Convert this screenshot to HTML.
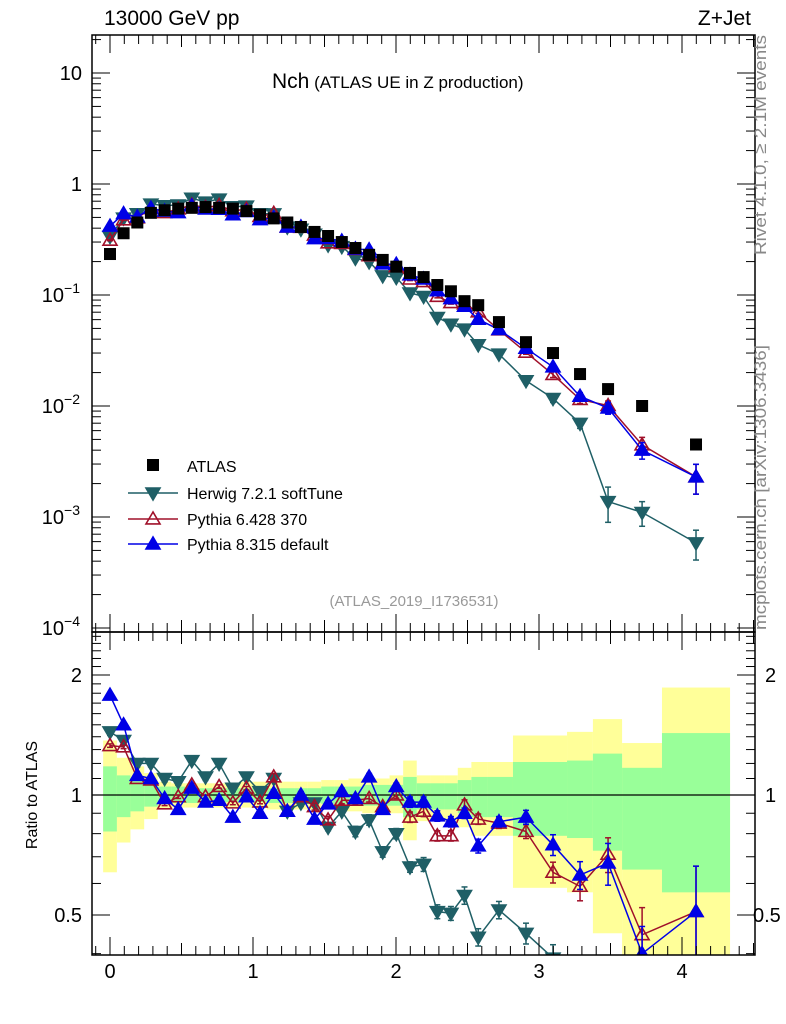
<!DOCTYPE html>
<html><head><meta charset="utf-8"><style>
html,body{margin:0;background:#fff;overflow:hidden;width:786px;height:1024px;}
svg{display:block;font-family:"Liberation Sans",sans-serif;}
</style></head><body>
<svg id="c" width="786" height="1024" xmlns="http://www.w3.org/2000/svg"></svg>
<script>
const xs=[0,0.095,0.191,0.286,0.382,0.477,0.572,0.668,0.763,0.859,0.954,1.049,1.145,1.24,1.335,1.43,1.525,1.621,1.716,1.812,1.907,2.002,2.098,2.193,2.289,2.384,2.479,2.575,2.72,2.909,3.098,3.287,3.483,3.721,4.098];
const edges=[-0.048,0.048,0.143,0.239,0.334,0.429,0.525,0.62,0.715,0.811,0.906,1.001,1.097,1.191,1.287,1.382,1.477,1.573,1.668,1.764,1.859,1.955,2.05,2.145,2.241,2.336,2.432,2.527,2.643,2.818,3.007,3.196,3.377,3.581,3.86,4.336];
const atlas=[0.234,0.36,0.45,0.55,0.58,0.60,0.61,0.62,0.61,0.60,0.57,0.53,0.49,0.45,0.41,0.37,0.34,0.30,0.265,0.23,0.207,0.18,0.158,0.145,0.123,0.108,0.088,0.081,0.057,0.0376,0.030,0.0194,0.0142,0.0100,0.0045];
const herwigRatio=[1.44,1.37,1.20,1.20,1.10,1.08,1.22,1.11,1.20,1.04,1.11,1.02,1.10,0.91,0.955,0.955,0.83,0.91,0.81,0.866,0.72,0.80,0.66,0.67,0.51,0.505,0.56,0.44,0.515,0.45,0.39,0.36,0.097,0.11,0.13];
const py6Ratio=[1.33,1.32,1.10,1.09,0.95,0.99,1.06,0.99,1.05,0.955,1.04,0.96,1.11,0.91,0.99,0.935,0.866,0.97,0.97,0.98,0.935,1.0,0.88,0.91,0.79,0.79,0.944,0.87,0.85,0.81,0.64,0.59,0.71,0.446,0.51];
const py8Ratio=[1.78,1.50,1.12,1.10,0.98,0.92,1.04,0.96,0.97,0.88,0.99,0.90,1.01,0.91,1.0,0.87,0.95,1.02,0.98,1.11,0.92,1.05,0.96,0.96,0.886,0.857,0.90,0.745,0.857,0.88,0.75,0.63,0.675,0.40,0.51];
const herwigErr=[0.02,0.02,0.02,0.02,0.02,0.02,0.02,0.02,0.02,0.02,0.02,0.02,0.02,0.02,0.02,0.02,0.02,0.02,0.03,0.03,0.03,0.03,0.03,0.04,0.04,0.04,0.05,0.05,0.05,0.06,0.08,0.1,0.35,0.25,0.3];
const py6Err=[0.01,0.01,0.01,0.01,0.01,0.01,0.01,0.01,0.01,0.01,0.01,0.01,0.02,0.02,0.02,0.02,0.02,0.02,0.02,0.02,0.02,0.02,0.03,0.03,0.03,0.03,0.03,0.03,0.03,0.04,0.06,0.08,0.1,0.17,0.3];
const py8Err=[0.01,0.01,0.01,0.01,0.01,0.01,0.01,0.01,0.01,0.01,0.01,0.01,0.02,0.02,0.02,0.02,0.02,0.02,0.02,0.02,0.02,0.02,0.03,0.03,0.03,0.03,0.03,0.04,0.03,0.04,0.06,0.08,0.12,0.17,0.3];
const yelHi=[1.37,1.24,1.18,1.135,1.08,1.07,1.07,1.07,1.07,1.07,1.08,1.08,1.08,1.08,1.08,1.08,1.09,1.09,1.10,1.10,1.10,1.12,1.22,1.12,1.12,1.12,1.17,1.21,1.21,1.41,1.41,1.44,1.55,1.35,1.86];
const yelLo=[0.64,0.76,0.82,0.87,0.92,0.93,0.93,0.93,0.93,0.93,0.93,0.93,0.92,0.92,0.92,0.92,0.92,0.91,0.91,0.90,0.90,0.90,0.77,0.86,0.86,0.86,0.83,0.79,0.79,0.585,0.585,0.57,0.45,0.3,0.3];
const grnHi=[1.18,1.12,1.09,1.07,1.05,1.05,1.04,1.04,1.04,1.04,1.04,1.04,1.04,1.04,1.04,1.04,1.05,1.05,1.05,1.06,1.06,1.06,1.11,1.07,1.07,1.07,1.09,1.11,1.11,1.21,1.21,1.22,1.27,1.17,1.43];
const grnLo=[0.81,0.88,0.91,0.935,0.95,0.955,0.955,0.96,0.96,0.96,0.96,0.96,0.955,0.955,0.955,0.955,0.95,0.95,0.95,0.94,0.94,0.94,0.88,0.92,0.92,0.92,0.90,0.88,0.88,0.79,0.79,0.78,0.725,0.65,0.57];
const xTicks=[0,1,2,3,4];
const mainTicks=[1,0,-1,-2,-3,-4];
const ratioTicks=[0.5,1,2];

const NS="http://www.w3.org/2000/svg";
const svg=document.getElementById('c');
function el(tag,attrs,parent){const e=document.createElementNS(NS,tag);for(const k in attrs)e.setAttribute(k,attrs[k]);(parent||svg).appendChild(e);return e;}
const L=92,R=755,T=35,M=632,B=955;
const X=v=>110+v*143;
const Y=v=>184-Math.log10(v)*111;
const YR=v=>795-Math.log10(v)*398.7;
const defs=el('defs',{});
const cp1=el('clipPath',{id:'cm'},defs);el('rect',{x:L,y:T,width:R-L,height:M-T},cp1);
const cp2=el('clipPath',{id:'cr'},defs);el('rect',{x:L,y:M,width:R-L,height:B-M},cp2);

const gBand=el('g',{'clip-path':'url(#cr)'});


for(let i=0;i<xs.length;i++){
  const r=el('rect',{x:X(edges[i]),width:X(edges[i+1])-X(edges[i]),y:YR(yelHi[i]),height:YR(yelLo[i])-YR(yelHi[i]),fill:'#ffff99'},gBand);
  
  
}
for(let i=0;i<xs.length;i++){
  const r=el('rect',{x:X(edges[i]),width:X(edges[i+1])-X(edges[i]),y:YR(grnHi[i]),height:YR(grnLo[i])-YR(grnHi[i]),fill:'#99ff99'},gBand);
  
  
}
el('line',{x1:L,x2:R,y1:YR(1),y2:YR(1),stroke:'#000','stroke-width':1.2});

function tri(g,cx,cy,up,color,filled){
  const s=7;
  const pts=up?`${cx},${cy-s} ${cx-s},${cy+s*0.7} ${cx+s},${cy+s*0.7}`:`${cx},${cy+s} ${cx-s},${cy-s*0.7} ${cx+s},${cy-s*0.7}`;
  const p=el('polygon',{points:pts,fill:filled?color:'#fff','fill-opacity':filled?1:0,stroke:color,'stroke-width':1.6},g);
  
  
}
const series=[
 {name:'herwig',ratio:herwigRatio,err:herwigErr,color:'#1f5f66',up:false,filled:true},
 {name:'pythia6',ratio:py6Ratio,err:py6Err,color:'#a0102a',up:true,filled:false},
 {name:'pythia8',ratio:py8Ratio,err:py8Err,color:'#0000e6',up:true,filled:true}];
function drawSeries(s,main){
  const g=el('g',{'clip-path':main?'url(#cm)':'url(#cr)'});
  
  
  const fy=i=>main?Y(atlas[i]*s.ratio[i]):YR(s.ratio[i]);
  const lo=i=>main?Y(atlas[i]*s.ratio[i]*(1-s.err[i])):YR(s.ratio[i]*(1-s.err[i]));
  const hi=i=>main?Y(atlas[i]*s.ratio[i]*(1+s.err[i])):YR(s.ratio[i]*(1+s.err[i]));
  el('polyline',{points:xs.map((x,i)=>X(x)+','+fy(i)).join(' '),fill:'none',stroke:s.color,'stroke-width':1.5},g);
  for(let i=0;i<xs.length;i++){
    const x=X(xs[i]);
    el('line',{x1:x,x2:x,y1:lo(i),y2:hi(i),stroke:s.color,'stroke-width':1.5},g);
    el('line',{x1:x-3,x2:x+3,y1:lo(i),y2:lo(i),stroke:s.color,'stroke-width':1.5},g);
    el('line',{x1:x-3,x2:x+3,y1:hi(i),y2:hi(i),stroke:s.color,'stroke-width':1.5},g);
    tri(g,x,fy(i),s.up,s.color,s.filled);
  }
}
series.forEach(s=>drawSeries(s,true));
const ga=el('g',{'clip-path':'url(#cm)'});


for(let i=0;i<xs.length;i++){
  const r=el('rect',{x:X(xs[i])-6,y:Y(atlas[i])-6,width:12,height:12,fill:'#000'},ga);
  
  
}
series.forEach(s=>drawSeries(s,false));

el('rect',{x:L,y:T,width:R-L,height:M-T,fill:'none',stroke:'#000','stroke-width':1.5});
el('rect',{x:L,y:M,width:R-L,height:B-M,fill:'none',stroke:'#000','stroke-width':1.5});
for(let k=-1;k<=45;k++){
  const v=k/10;const x=X(v);if(x<=L||x>=R)continue;
  const major=k%10===0;const len=major?18:(k%5===0?12:9);
  [[T,1],[M,-1],[M,1],[B,-1]].forEach(([y0,d])=>el('line',{x1:x,x2:x,y1:y0,y2:y0+d*len,stroke:'#000','stroke-width':1}));
}
xTicks.forEach(v=>{const t=el('text',{x:X(v),y:978,'font-size':20,'text-anchor':'middle'});t.textContent=v;
 });
for(let d=-4;d<=1;d++){
  for(let m=1;m<=9;m++){
    const v=m*Math.pow(10,d);const y=Y(v);if(y<T||y>M)continue;
    const len=m===1?18:9;
    el('line',{x1:L,x2:L+len,y1:y,y2:y,stroke:'#000'});el('line',{x1:R,x2:R-len,y1:y,y2:y,stroke:'#000'});
  }
}
mainTicks.forEach(d=>{
  const y=Y(Math.pow(10,d))+7;
  const t=el('text',{x:d>=0?82:80,y:y,'font-size':20,'text-anchor':'end'});
  
  if(d===1)t.textContent='10';else if(d===0)t.textContent='1';
  else{const a=el('tspan',{},t);a.textContent='10';const b=el('tspan',{dy:-9,'font-size':14});b.textContent='\u2212'+(-d);t.appendChild(b);}
});
for(let k=4;k<=25;k++){
  const v=k/10;const y=YR(v);if(y<M||y>B)continue;
  const major=(k===5||k===10||k===20);const len=major?18:9;
  el('line',{x1:L,x2:L+len,y1:y,y2:y,stroke:'#000'});el('line',{x1:R,x2:R-len,y1:y,y2:y,stroke:'#000'});
}
ratioTicks.forEach(v=>{
  const t=el('text',{x:82,y:YR(v)+7,'font-size':20,'text-anchor':'end'});t.textContent=v;
  
  const t2=el('text',{x:v<1?753:765,y:YR(v)+7,'font-size':20});t2.textContent=v;
  
});
function txt(s,attrs,name){const t=el('text',attrs);t.textContent=s;return t;}
txt('13000 GeV pp',{x:104,y:25,'font-size':21},'energy-label');
txt('Z+Jet',{x:751,y:25,'font-size':21,'text-anchor':'end'},'process-label');
const tt=txt('Nch',{x:272,y:88,'font-size':21},'plot-title');
const ts=el('tspan',{'font-size':17});ts.textContent=' (ATLAS UE in Z production)';tt.appendChild(ts);
txt('(ATLAS_2019_I1736531)',{x:414,y:606,'font-size':15,fill:'#999','text-anchor':'middle'},'analysis-id');
txt('Rivet 4.1.0, \u2265 2.1M events',{x:0,y:0,'font-size':17,fill:'#888','text-anchor':'end',textLength:220,lengthAdjust:'spacingAndGlyphs',transform:'translate(766,35) rotate(-90)'},'rivet-label');
txt('mcplots.cern.ch [arXiv:1306.3436]',{x:0,y:0,'font-size':17,fill:'#888','text-anchor':'end',textLength:285,lengthAdjust:'spacingAndGlyphs',transform:'translate(766,345) rotate(-90)'},'mcplots-label');
txt('Ratio to ATLAS',{x:0,y:0,'font-size':16,'text-anchor':'middle',transform:'translate(37,795) rotate(-90)'},'y-axis-title');
const lg=el('g',{});
el('rect',{x:147,y:459,width:12,height:12,fill:'#000'},lg);
txt('ATLAS',{x:187,y:472,'font-size':16},'legend-atlas');
const legY=[493,519,544];const legT=['Herwig 7.2.1 softTune','Pythia 6.428 370','Pythia 8.315 default'];
series.forEach((s,i)=>{
  el('line',{x1:128,x2:178,y1:legY[i],y2:legY[i],stroke:s.color,'stroke-width':1.5},lg);
  tri(lg,153,legY[i],s.up,s.color,s.filled);
  txt(legT[i],{x:187,y:legY[i]+6,'font-size':16},'legend-'+s.name);
});
</script>
</body></html>
